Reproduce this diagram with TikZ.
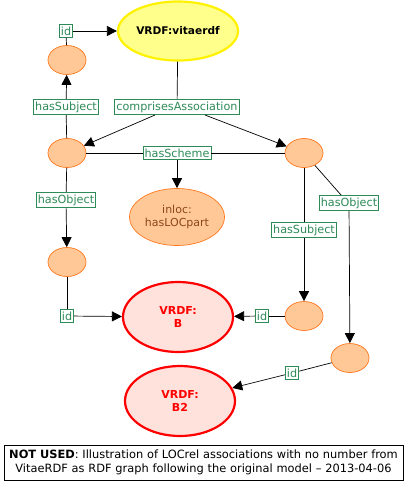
\documentclass[tikz,border=0pt]{standalone}
\usepackage{fontspec}
\setmainfont{DejaVu Sans}
\usetikzlibrary{shapes.geometric,arrows.meta}
\definecolor{rdfgreen}{RGB}{46,139,87}
\definecolor{blankfill}{RGB}{255,200,150}
\definecolor{blankdraw}{RGB}{255,120,30}
\definecolor{resfill}{RGB}{255,226,220}
\definecolor{litbrown}{RGB}{140,70,30}
\definecolor{vitaefill}{RGB}{255,255,140}

\tikzset{
  blank/.style={ellipse, fill=blankfill, draw=blankdraw, line width=0.7pt, minimum width=38pt, minimum height=29pt, inner sep=0pt},
  prop/.style={draw=rdfgreen, text=rdfgreen, fill=white, font=\fontsize{11.2}{13}\selectfont, inner xsep=1.6pt, inner ysep=2.2pt, line width=0.8pt},
  res/.style={ellipse, draw=red, line width=2.2pt, fill=resfill, text=red, font=\bfseries\fontsize{11}{13}\selectfont, align=center, minimum width=110pt, minimum height=70pt, inner sep=0pt},
  edge/.style={line width=0.7pt},
  arr/.style={edge, -{Triangle[length=10pt,width=10pt]}}
}

\begin{document}
\begin{tikzpicture}[x=1pt, y=-1pt]
\useasboundingbox (0,0) rectangle (407,483);

% resources
\node[ellipse, draw=yellow, line width=2.2pt, fill=vitaefill, font=\bfseries\fontsize{10.6}{12}\selectfont, minimum width=120pt, minimum height=59pt, inner sep=0pt] (vitae) at (178,31) {VRDF:vitaerdf};
\node[res] (resB) at (178,317) {VRDF:\\B};
\node[res] (resBtwo) at (180,401) {VRDF:\\B2};
\node[ellipse, fill=blankfill, draw=blankdraw, line width=0.7pt, text=litbrown, align=center, font=\fontsize{11}{13.5}\selectfont, minimum width=95pt, minimum height=57pt, inner sep=0pt] (loc) at (177,217) {inloc:\\hasLOCpart};

% blank nodes
\node[blank] (subjL) at (67,60) {};
\node[blank] (assocL) at (67,153) {};
\node[blank] (objL) at (67,262) {};
\node[blank] (assocR) at (304,153) {};
\node[blank] (subjR) at (304,316) {};
\node[blank] (objR) at (350,358) {};

% properties
\node[prop] (idTop) at (66,31) {id};
\node[prop] (hasSubjL) at (66,107) {hasSubject};
\node[prop] (comprises) at (177,107) {comprisesAssociation};
\node[prop] (scheme) at (177,153) {hasScheme};
\node[prop] (hasObjL) at (66,200) {hasObject};
\node[prop] (idL) at (67,316) {id};
\node[prop] (hasObjR) at (349,203) {hasObject};
\node[prop] (hasSubjR) at (304,230) {hasSubject};
\node[prop] (idM) at (262,316) {id};
\node[prop] (idLow) at (292,373) {id};

% connectors
\draw[edge] (subjL) -- (idTop);
\draw[arr] (idTop) -- (vitae);
\draw[edge] (vitae) -- (comprises);
\draw[arr] ([xshift=-22pt]comprises.south) -- (assocL);
\draw[arr] ([xshift=28pt]comprises.south) -- (assocR);
\draw[edge] (assocL) -- (hasSubjL);
\draw[arr] (hasSubjL) -- (subjL);
\draw[edge] (assocL) -- (scheme) -- (assocR);
\draw[arr] (scheme) -- (loc);
\draw[edge] (assocL) -- (hasObjL);
\draw[arr] (hasObjL) -- (objL);
\draw[edge] (objL) -- (idL);
\draw[arr] (idL) -- (resB);
\draw[edge] (assocR) -- (hasSubjR);
\draw[arr] (hasSubjR) -- (subjR);
\draw[edge] (subjR) -- (idM);
\draw[arr] (idM) -- (resB);
\draw[edge] (assocR) -- ([xshift=-8pt]hasObjR.north);
\draw[arr] (hasObjR) -- (objR);
\draw[edge] (objR) -- (idLow);
\draw[arr] (idLow) -- (resBtwo);

% caption
\node[draw, line width=0.8pt, align=center, font=\fontsize{11.4}{14}\selectfont, text width=397pt, minimum height=35pt, inner sep=1pt] (caption) at (203.5,462.5) {\textbf{NOT USED}: Illustration of LOCrel associations with no number from\\VitaeRDF as RDF graph following the original model -- 2013-04-06};
\end{tikzpicture}
\end{document}
